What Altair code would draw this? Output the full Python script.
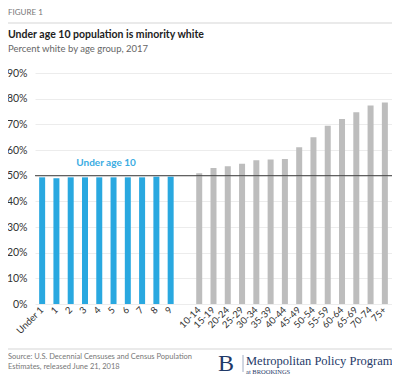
import altair as alt
import pandas as pd

categories = ["Under 1", "1", "2", "3", "4", "5", "6", "7", "8", "9",
              "10-14", "15-19", "20-24", "25-29", "30-34", "35-39", "40-44",
              "45-49", "50-54", "55-59", "60-64", "65-69", "70-74", "75+"]
values = [0.4935, 0.490, 0.4935, 0.4935, 0.4935, 0.4935, 0.4935, 0.4935, 0.496, 0.496,
          0.509, 0.530, 0.537, 0.546, 0.560, 0.563, 0.565,
          0.611, 0.650, 0.694, 0.721, 0.747, 0.773, 0.785]
groups = ["Under age 10"] * 10 + ["Older"] * 14
domain_order = categories[:10] + [""] + categories[10:]
y_ticks = [0, 0.1, 0.2, 0.3, 0.4, 0.5, 0.6, 0.7, 0.8, 0.9]

df = pd.DataFrame({"age": categories, "pct": values, "group": groups})

FONT = "Lato"
W, H = 357, 231
OX, OY = 35, 73  # plot origin on page

xscale = alt.Scale(domain=domain_order, paddingInner=0.58, paddingOuter=0.29)
yscale = alt.Scale(domain=[0, 0.9], nice=False)
yaxis = alt.Axis(values=y_ticks, format=".0%", labelFontSize=10.5,
                 labelColor="#333", labelFont=FONT, ticks=False, domain=False,
                 grid=True, gridColor="#ececec", labelPadding=8,
                 labelOverlap=False)

bars = alt.Chart(df).mark_bar().encode(
    x=alt.X("age:N", scale=xscale, sort=domain_order, title=None,
            axis=alt.Axis(labelAngle=-45, labelFontSize=9.5, labelColor="#333",
                          labelFont=FONT, ticks=False, domain=False, labelPadding=4,
                          labelAlign="right", labelBaseline="middle", grid=False,
                          labelOverlap=False)),
    y=alt.Y("pct:Q", scale=yscale, title=None, axis=yaxis),
    color=alt.Color("group:N", scale=alt.Scale(domain=["Under age 10", "Older"],
                                                range=["#29a8e0", "#bdbdbd"]), legend=None),
)

rule = alt.Chart(pd.DataFrame({"pct": [0.5]})).mark_rule(color="#444", strokeWidth=1).encode(
    y=alt.Y("pct:Q", scale=yscale, title=None, axis=yaxis)
)

label = alt.Chart(pd.DataFrame({"pct": [0.55], "t": ["Under age 10"]})).mark_text(
    color="#3aace2", fontWeight="bold", fontSize=10, font=FONT
).encode(x=alt.value(71), y=alt.Y("pct:Q", scale=yscale, title=None, axis=yaxis), text="t:N")


def px(x): return x - OX
def py(y): return y - OY


def txt(t, x, y, size, color, weight="normal", font=FONT, align="left"):
    return alt.Chart(pd.DataFrame({"t": [t]})).mark_text(
        align=align, baseline="middle", fontSize=size, color=color,
        fontWeight=weight, font=font
    ).encode(x=alt.value(px(x)), y=alt.value(py(y)), text="t:N")


def hline(y, x1, x2, color):
    return alt.Chart(pd.DataFrame({"a": [0]})).mark_rule(color=color, strokeWidth=1).encode(
        x=alt.value(px(x1)), x2=alt.value(px(x2)), y=alt.value(py(y)))


def vline(x, y1, y2, color):
    return alt.Chart(pd.DataFrame({"a": [0]})).mark_rule(color=color, strokeWidth=0.8).encode(
        x=alt.value(px(x)), y=alt.value(py(y1)), y2=alt.value(py(y2)))


annot = [
    txt("FIGURE 1", 8, 13, 8, "#777"),
    hline(23, 8, 392, "#d5d5d5"),
    txt("Under age 10 population is minority white", 8, 35, 10.5, "#222", "bold"),
    txt("Percent white by age group, 2017", 8, 49, 9.5, "#666"),
    hline(349, 8, 392, "#d5d5d5"),
    txt("Source: U.S. Decennial Censuses and Census Population", 8, 357, 7.5, "#777"),
    txt("Estimates, released June 21, 2018", 8, 367, 7.5, "#777"),
    txt("B", 218, 364, 24, "#1f3a68", font="Liberation Serif"),
    vline(243, 355, 372, "#8a9ab5"),
    txt("Metropolitan Policy Program", 246, 361, 12.5, "#1f3a68", font="Liberation Serif"),
    txt("at BROOKINGS", 246, 372, 6.5, "#1f3a68", font="Liberation Serif"),
]

chart = alt.layer(bars, rule, label, *annot).properties(
    width=W, height=H, background="white",
    padding={"left": OX - 8, "top": OY - 8, "right": 0, "bottom": 382 - 8 - (OY - 8) - H},
    autosize=alt.AutoSizeParams(type="none"),
).configure_view(strokeWidth=0, strokeOpacity=0).configure_axis(
    domain=False, ticks=False
).configure_axisX(grid=False)

chart.save("out.html", embed_options={"renderer": "svg", "actions": False})
